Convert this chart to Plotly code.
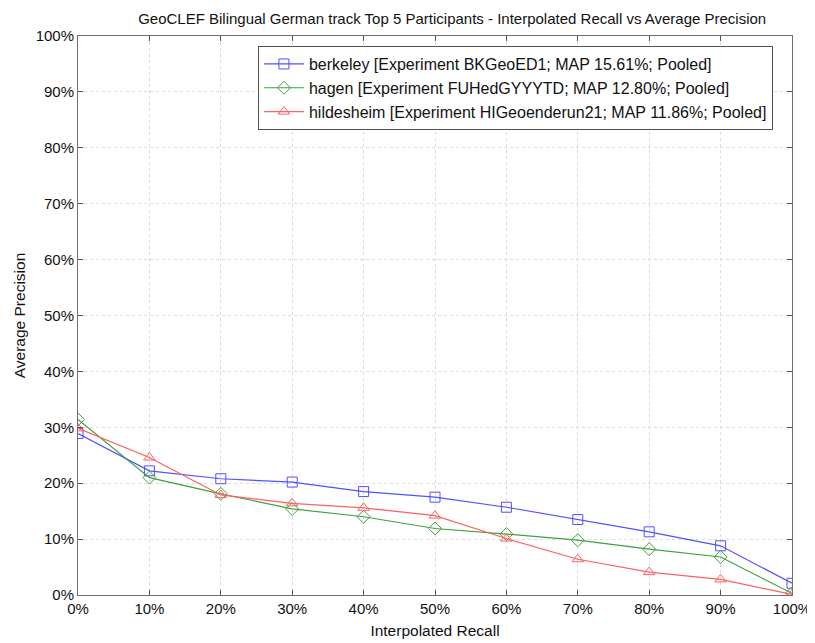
import plotly.graph_objects as go

recall = [0, 10, 20, 30, 40, 50, 60, 70, 80, 90, 100]
berkeley = [28.9, 22.2, 20.8, 20.2, 18.5, 17.5, 15.7, 13.5, 11.3, 8.8, 2.1]
hagen = [31.4, 21.0, 18.1, 15.4, 14.0, 11.9, 10.9, 9.8, 8.2, 6.8, 0.3]
hildesheim = [29.8, 24.6, 17.9, 16.4, 15.6, 14.2, 10.1, 6.4, 4.1, 2.8, 0.1]
names = [
    "berkeley [Experiment BKGeoED1; MAP 15.61%; Pooled]",
    "hagen [Experiment FUHedGYYYTD; MAP 12.80%; Pooled]",
    "hildesheim [Experiment HIGeoenderun21; MAP 11.86%; Pooled]",
]
tick_vals = list(range(0, 101, 10))
tick_text = [f"{v}%" for v in tick_vals]

fig = go.Figure()
styles = [
    (berkeley, "#5050ff", "square-open"),
    (hagen, "#40a040", "diamond-open"),
    (hildesheim, "#ff6060", "triangle-up-open"),
]
for (vals, col, sym), nm in zip(styles, names):
    fig.add_trace(go.Scatter(
        x=recall, y=vals, name=nm, mode="lines+markers",
        line=dict(color=col, width=1.2),
        marker=dict(symbol=sym, size=10, color=col, line=dict(color=col, width=1)),
    ))

axis_common = dict(
    range=[0, 100], tickvals=tick_vals, ticktext=tick_text,
    showgrid=True, gridcolor="#dcdcdc", griddash="dot", gridwidth=1,
    showline=True, linecolor="#707070", linewidth=1, mirror="ticks",
    ticks="inside", ticklen=5, tickcolor="#505050",
    zeroline=False, tickfont=dict(size=15, color="#111"), automargin=False,
)
fig.update_xaxes(**axis_common, title=dict(text="Interpolated Recall", font=dict(size=15.5), standoff=9))
fig.update_yaxes(**axis_common, title=dict(text="Average Precision", font=dict(size=15.5), standoff=6))

fig.update_layout(
    width=815, height=643,
    margin=dict(l=70, r=31, t=28, b=56),
    paper_bgcolor="white", plot_bgcolor="white",
    font=dict(family="Liberation Sans, Arial, sans-serif", color="#111"),
    title=dict(text="GeoCLEF Bilingual German track Top 5 Participants - Interpolated Recall vs Average Precision",
               xref="container", x=0.545, xanchor="center", y=0.992, yanchor="top", font=dict(size=15)),
    legend=dict(x=0.252, y=0.982, xanchor="left", yanchor="top",
                bgcolor="white", bordercolor="#505050", borderwidth=1,
                font=dict(size=16), tracegroupgap=0, itemwidth=40),
    showlegend=True,
)
fig.write_html("out.html")
